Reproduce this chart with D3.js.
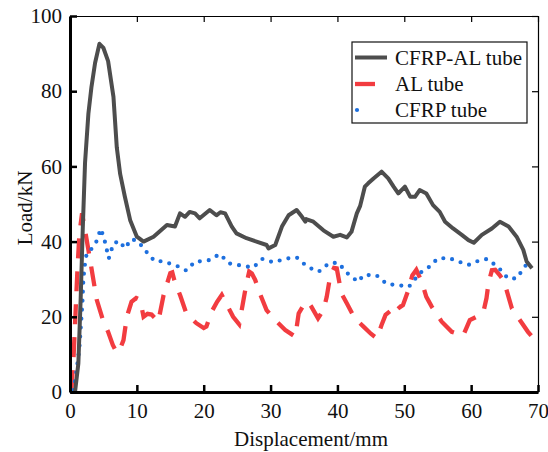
<!DOCTYPE html>
<html>
<head>
<meta charset="utf-8">
<script src="https://cdn.jsdelivr.net/npm/d3@7"></script>
<style>
  body { margin: 0; background: #fff; }
</style>
</head>
<body>
<div id="chart"></div>
<script>
// CFRP-AL tube (displacement mm, load kN)
const cfrpAlX = [0.75, 1.25, 1.6, 1.9, 2.25, 2.75, 3.2, 3.75, 4.4, 5.0, 5.7, 6.5, 7.0, 7.5, 8.2, 9.0, 10.0, 11.0, 12.5, 14.5,
  15.7, 16.45, 17.2, 17.9, 18.7, 19.4, 20.9, 21.9, 22.5, 23.2, 24.2, 24.9, 26.4, 27.9, 29.4, 29.7, 30.7, 31.7, 32.7, 33.9,
  34.7, 35.2, 35.3, 36.4, 37.9, 39.4, 40.4, 41.4, 42.1, 42.9, 43.4, 44.1, 44.6, 45.4, 46.6, 47.6, 48.4, 49.1, 50.1, 50.9,
  51.6, 52.3, 53.3, 54.3, 55.3, 56.1, 57.3, 58.6, 59.6, 60.4, 61.6, 63.1, 64.3, 65.6, 66.8, 67.8, 68.3, 69.1];
const cfrpAlY = [0, 7.6, 25, 43, 61, 74, 81, 87.5, 92.6, 91.5, 88, 78.5, 65, 58, 52, 45.7, 41.3, 40, 41.3, 44.4,
  44, 47.5, 46.6, 47.9, 47.5, 46.2, 48.4, 47, 47.8, 47.5, 44, 42.2, 40.9, 40, 39.1, 38.2, 39.1, 44, 47, 48.4,
  46.6, 45.3, 46, 45.3, 43, 41.3, 41.8, 41.1, 42.6, 47.5, 49.5, 54.6, 55.5, 56.8, 58.6, 56.8, 54.6, 52.8, 54.6, 51.9,
  51.9, 53.7, 52.8, 49.7, 47.9, 45.3, 43.5, 41.8, 40.4, 39.7, 41.8, 43.5, 45.3, 44, 41.3, 37.8, 34.7, 32.9];

// AL tube
const alX = [0.2, 0.5, 0.8, 1.1, 1.4, 1.8, 2.25, 2.75, 3.2, 4.0, 5.0, 5.7, 6.4, 7.0, 7.4, 8.0, 8.5, 9.2, 9.9, 10.5,
  11.0, 11.6, 12.2, 13.2, 14.0, 15.0, 15.3, 15.6, 16.5, 17.4, 18.9, 20.0, 20.4, 21.2, 22.0, 22.7, 24.4, 25.3, 25.8, 26.3,
  26.8, 27.2, 27.7, 28.4, 29.4, 30.7, 32.2, 33.7, 34.2, 35.1, 35.6, 36.1, 37.1, 37.9, 38.4, 38.9, 39.5, 39.9, 40.6, 41.4,
  42.6, 43.9, 45.0, 45.9, 46.6, 47.2, 48.1, 48.8, 49.3, 49.8, 50.6, 51.2, 51.8, 52.6, 53.3, 54.1, 55.6, 57.1, 58.8, 59.8,
  60.8, 61.8, 62.3, 62.6, 63.1, 63.6, 64.3, 64.8, 65.3, 66.1, 67.1, 68.5, 69.3];
const alY = [0.5, 8, 20, 32, 42, 47.5, 43, 37.8, 33, 24.5, 18.7, 16, 12.5, 10.5, 11, 13.8, 20, 24, 25, 24.5,
  20, 20.8, 20.6, 18.7, 25.8, 31.6, 31.8, 29.8, 25.6, 20.9, 18.3, 17, 17.4, 21.4, 24, 25.8, 20, 18, 23, 28,
  32, 31.5, 29.8, 26.2, 21.8, 19.1, 16.5, 14.7, 20.9, 23.6, 24, 22.7, 19.6, 21.8, 25.3, 30.7, 33, 32.9, 26.2, 23.6,
  19.6, 17.4, 15.5, 14.3, 17.8, 20.5, 21.8, 23.5, 22.5, 23.1, 27.1, 31, 32.5, 29.3, 25.3, 22.7, 18.7, 16, 15, 19.1,
  20, 21, 25, 29, 32.4, 32.5, 31, 29.8, 27.1, 22.2, 19.6, 16, 14.3];

// CFRP tube
const cfrpX = [0.5, 1.0, 1.4, 1.65, 1.85, 2.0, 2.25, 2.5, 3.1, 3.9, 4.6, 5.1, 5.8, 6.5, 7.4, 8.2, 9.2, 10.2, 11.2, 12.0,
  12.8, 13.8, 14.85, 15.7, 16.7, 17.4, 18.7, 19.8, 20.9, 22.4, 23.8, 25.7, 27.4, 28.8, 30.4, 32.4, 33.9, 35.5, 37.2, 38.7,
  40.1, 41.6, 43.1, 43.9, 45.8, 47.4, 49.2, 50.7, 52.3, 54.0, 54.9, 56.6, 58.1, 59.6, 61.1, 62.4, 64.1, 65.5, 66.8, 68.5];
const cfrpY = [0.5, 5.9, 11.6, 18.3, 23.6, 30.2, 34.2, 36.9, 37.8, 39.8, 43.4, 40.9, 35.5, 39.5, 40.2, 38.2, 40.7, 40, 37.8, 36,
  34.7, 34.8, 34.2, 33.8, 32.9, 32.3, 34.7, 34.8, 35.1, 36.7, 34.2, 33.6, 33.1, 35.4, 34.5, 35.5, 35.8, 33.3, 32, 34.2,
  34.4, 31.4, 29.3, 31.1, 31.1, 28.7, 28.4, 28, 31.6, 33.6, 35.4, 35.7, 34.7, 33.8, 34.9, 35.4, 33.1, 30.2, 30.2, 34.5];

const xTicks = [0, 10, 20, 30, 40, 50, 60, 70];
const yTicks = [0, 20, 40, 60, 80, 100];

const seriesNames = ['CFRP-AL tube', 'AL tube', 'CFRP tube'];
const colors = ['#4d4d4d', '#f23c40', '#1d6fde'];

const FONT = 'Liberation Serif';
const W = 548, H = 452;
const margin = { top: 16, left: 70 };
const width = 538 - margin.left;
const height = 392 - margin.top;

const svg = d3.select('#chart').append('svg')
  .attr('width', W)
  .attr('height', H);

const g = svg.append('g')
  .attr('transform', `translate(${margin.left},${margin.top})`);

const x = d3.scaleLinear().domain([0, 70]).range([0, width]);
const y = d3.scaleLinear().domain([0, 100]).range([height, 0]);

const line = d3.line().x(d => x(d[0])).y(d => y(d[1]));

// Series
g.append('path')
  .datum(alX.map((v, i) => [v, alY[i]]))
  .attr('fill', 'none')
  .attr('stroke', colors[1])
  .attr('stroke-width', 4.3)
  .attr('stroke-dasharray', '20 13')
  .attr('d', line);

g.append('path')
  .datum(cfrpX.map((v, i) => [v, cfrpY[i]]))
  .attr('fill', 'none')
  .attr('stroke', colors[2])
  .attr('stroke-width', 4.2)
  .attr('stroke-linecap', 'round')
  .attr('stroke-dasharray', '0 9')
  .attr('d', line);

g.append('path')
  .datum(cfrpAlX.map((v, i) => [v, cfrpAlY[i]]))
  .attr('fill', 'none')
  .attr('stroke', colors[0])
  .attr('stroke-width', 4)
  .attr('stroke-linejoin', 'round')
  .attr('d', line);

// Axes box: thin top/right, thick bottom/left
g.append('g').call(d3.axisTop(x).tickValues(xTicks).tickSizeInner(-6).tickSizeOuter(0).tickFormat(''))
  .call(a => a.select('.domain').attr('stroke-width', 1.2))
  .call(a => a.selectAll('.tick line').attr('stroke-width', 1.2));
g.append('g').attr('transform', `translate(${width},0)`)
  .call(d3.axisRight(y).tickValues(yTicks).tickSizeInner(-6).tickSizeOuter(0).tickFormat(''))
  .call(a => a.select('.domain').attr('stroke-width', 1.2))
  .call(a => a.selectAll('.tick line').attr('stroke-width', 1.2));

const xAxis = g.append('g').attr('transform', `translate(0,${height})`)
  .call(d3.axisBottom(x).tickValues(xTicks).tickSizeInner(-7).tickSizeOuter(0).tickPadding(11));
xAxis.select('.domain').attr('stroke-width', 3);
xAxis.selectAll('.tick line').attr('stroke-width', 2.5);

const yAxis = g.append('g')
  .call(d3.axisLeft(y).tickValues(yTicks).tickSizeInner(-7).tickSizeOuter(0).tickPadding(8));
yAxis.select('.domain').attr('stroke-width', 3);
yAxis.selectAll('.tick line').attr('stroke-width', 2.5);

svg.selectAll('.tick text')
  .attr('font-family', FONT)
  .attr('font-size', 21)
  .attr('fill', '#111');

// Axis titles
svg.append('text')
  .attr('x', 311)
  .attr('y', 446)
  .attr('text-anchor', 'middle')
  .attr('font-family', FONT)
  .attr('font-size', 21)
  .attr('fill', '#111')
  .text('Displacement/mm');

svg.append('text')
  .attr('transform', 'translate(32,208) rotate(-90)')
  .attr('text-anchor', 'middle')
  .attr('font-family', FONT)
  .attr('font-size', 21)
  .attr('fill', '#111')
  .text('Load/kN');

// Legend
const legend = svg.append('g');
legend.append('rect')
  .attr('x', 352).attr('y', 42)
  .attr('width', 175).attr('height', 81)
  .attr('fill', '#fff')
  .attr('stroke', '#111')
  .attr('stroke-width', 1.2);

const legendRows = [
  { y: 57.5, x2: 387, dash: null, cap: 'butt', w: 4 },
  { y: 84, x2: 375, dash: null, cap: 'butt', w: 4.3 },
  { y: 110, x2: 385, dash: '0 28', cap: 'round', w: 4.2 }
];
legendRows.forEach((r, i) => {
  legend.append('line')
    .attr('x1', r.dash ? 357 : 355).attr('x2', r.x2)
    .attr('y1', r.y).attr('y2', r.y)
    .attr('stroke', colors[i])
    .attr('stroke-width', r.w)
    .attr('stroke-linecap', r.cap)
    .attr('stroke-dasharray', r.dash);
  legend.append('text')
    .attr('x', 395)
    .attr('y', r.y + 7)
    .attr('font-family', FONT)
    .attr('font-size', 21)
    .attr('fill', '#111')
    .text(seriesNames[i]);
});
</script>
</body>
</html>
